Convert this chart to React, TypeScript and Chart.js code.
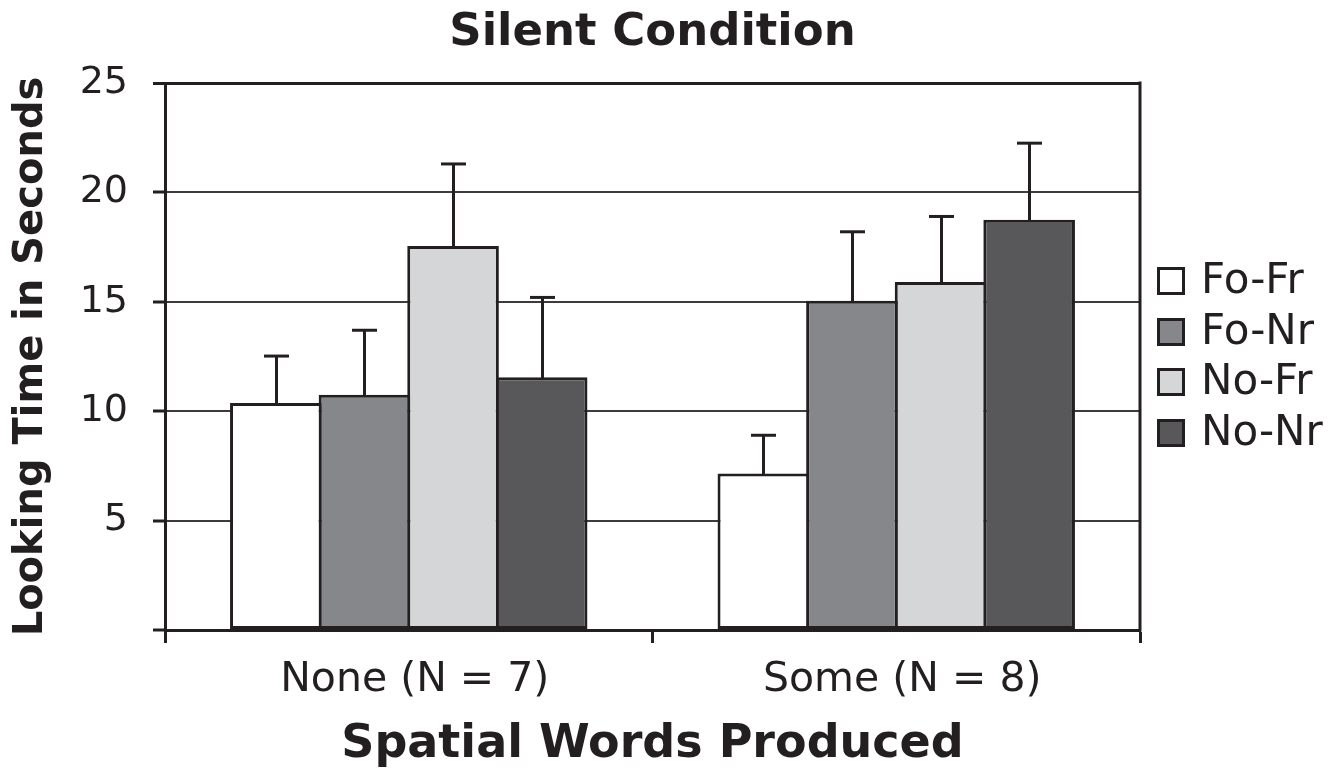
import React, { useEffect, useRef } from 'react';
import { Chart, registerables } from 'chart.js';

Chart.register(...registerables);

const chartTitle = 'Silent Condition';
const xTitle = 'Spatial Words Produced';
const yTitle = 'Looking Time in Seconds';
const categories = ['None (N = 7)', 'Some (N = 8)'];
const seriesLabels = ['Fo-Fr', 'Fo-Nr', 'No-Fr', 'No-Nr'];
const seriesColors = ['#ffffff', '#86878a', '#d5d6d8', '#58585b'];
const foFr = [10.37, 7.15];
const foFrErr = [2.15, 1.75];
const foNr = [10.75, 15.05];
const foNrErr = [2.95, 3.15];
const noFr = [17.55, 15.9];
const noFrErr = [3.75, 3.0];
const noNr = [11.55, 18.75];
const noNrErr = [3.65, 3.5];
const yMin = 0;
const yMax = 25;
const yStep = 5;

const INK = '#231f20';
const FONT = "'DejaVu Sans', Verdana, sans-serif";

const errorBarPlugin = {
  id: 'errorBars',
  afterDatasetsDraw(chart: any) {
    const ctx = chart.ctx;
    const yScale = chart.scales.y;
    ctx.save();
    ctx.strokeStyle = INK;
    ctx.lineWidth = 3;
    ctx.lineCap = 'butt';
    chart.data.datasets.forEach((ds: any, i: number) => {
      const meta = chart.getDatasetMeta(i);
      meta.data.forEach((bar: any, j: number) => {
        const top = yScale.getPixelForValue(ds.data[j] + ds.errors[j]);
        const x = Math.round(bar.x) + 0.5;
        ctx.beginPath();
        ctx.moveTo(x, bar.y + 2);
        ctx.lineTo(x, top);
        ctx.stroke();
        ctx.beginPath();
        ctx.moveTo(x - 12.5, top);
        ctx.lineTo(x + 12.5, top);
        ctx.stroke();
      });
    });
    ctx.restore();
  },
};

const framePlugin = {
  id: 'frame',
  afterDraw(chart: any) {
    const ctx = chart.ctx;
    const a = chart.chartArea;
    ctx.save();
    // right border
    ctx.strokeStyle = INK;
    ctx.lineWidth = 3;
    ctx.beginPath();
    ctx.moveTo(a.right, a.top - 1.5);
    ctx.lineTo(a.right, a.bottom + 1.5);
    ctx.stroke();
    // title
    ctx.fillStyle = INK;
    ctx.font = `bold 45px ${FONT}`;
    ctx.textAlign = 'center';
    ctx.textBaseline = 'middle';
    ctx.fillText(chartTitle, (a.left + a.right) / 2, 33);
    // legend
    const boxX = 1157;
    const size = 28;
    const rows = [281, 332, 382, 433];
    ctx.font = `42px ${FONT}`;
    ctx.textAlign = 'left';
    chart.data.datasets.forEach((ds: any, i: number) => {
      const cy = rows[i];
      ctx.fillStyle = INK;
      ctx.fillRect(boxX, cy - size / 2, size, size);
      ctx.fillStyle = ds.backgroundColor;
      ctx.fillRect(boxX + 3, cy - size / 2 + 3, size - 6, size - 6);
      ctx.fillStyle = INK;
      ctx.fillText(ds.label, 1201, cy + 1);
    });
    ctx.restore();
  },
};

export default function App() {
  const canvasRef = useRef<HTMLCanvasElement | null>(null);

  useEffect(() => {
    document.body.style.margin = '0';
    const canvas = canvasRef.current;
    if (!canvas) return;
    const seriesData = [foFr, foNr, noFr, noNr];
    const seriesErr = [foFrErr, foNrErr, noFrErr, noNrErr];
    const chart = new Chart(canvas, {
      type: 'bar',
      data: {
        labels: categories,
        datasets: seriesLabels.map((label, i) => ({
          label,
          data: seriesData[i],
          errors: seriesErr[i],
          backgroundColor: seriesColors[i],
          borderColor: INK,
          borderWidth: 3,
          borderSkipped: false,
          categoryPercentage: 0.727,
          barPercentage: 1.034,
        })) as any,
      },
      options: {
        animation: false,
        responsive: false,
        devicePixelRatio: 1,
        layout: { padding: { top: 83, right: 197, left: 0, bottom: 0 } },
        plugins: {
          legend: { display: false },
          title: { display: false },
          tooltip: { enabled: false },
        },
        scales: {
          x: {
            afterFit(scale: any) {
              scale.height = 143;
            },
            grid: {
              offset: true,
              drawOnChartArea: false,
              drawTicks: true,
              tickLength: 13,
              tickColor: INK,
              tickWidth: 3,
            },
            border: { color: INK, width: 3 },
            ticks: {
              color: INK,
              padding: 13,
              labelOffset: 6,
              font: { family: FONT, size: 41 },
            },
            title: {
              display: true,
              text: xTitle,
              color: INK,
              padding: { top: 0, bottom: 0 },
              font: { family: FONT, size: 46, weight: 'bold' },
            },
          },
          y: {
            min: yMin,
            max: yMax,
            afterFit(scale: any) {
              scale.width = 165;
            },
            grid: {
              color: (c: any) => (c.tick && c.tick.value === yMax ? INK : '#3c3c3c'),
              lineWidth: (c: any) => (c.tick && c.tick.value === yMax ? 3 : 2),
              drawTicks: true,
              tickLength: 12,
              tickColor: INK,
              tickWidth: 3,
            },
            border: { color: INK, width: 3 },
            ticks: {
              stepSize: yStep,
              color: INK,
              padding: 25,
              font: { family: FONT, size: 38 },
              callback: (v: any) => (v === 0 ? '' : String(v)),
            },
            title: {
              display: true,
              text: yTitle,
              color: INK,
              padding: { top: 8, bottom: 0 },
              font: { family: FONT, size: 40, weight: 'bold' },
            },
          },
        },
      },
      plugins: [errorBarPlugin, framePlugin],
    } as any);
    return () => chart.destroy();
  }, []);

  return (
    <div style={{ position: 'fixed', left: 0, top: 0, width: 1337, height: 773, background: '#fff' }}>
      <canvas ref={canvasRef} width={1337} height={773} style={{ display: 'block' }} />
    </div>
  );
}
